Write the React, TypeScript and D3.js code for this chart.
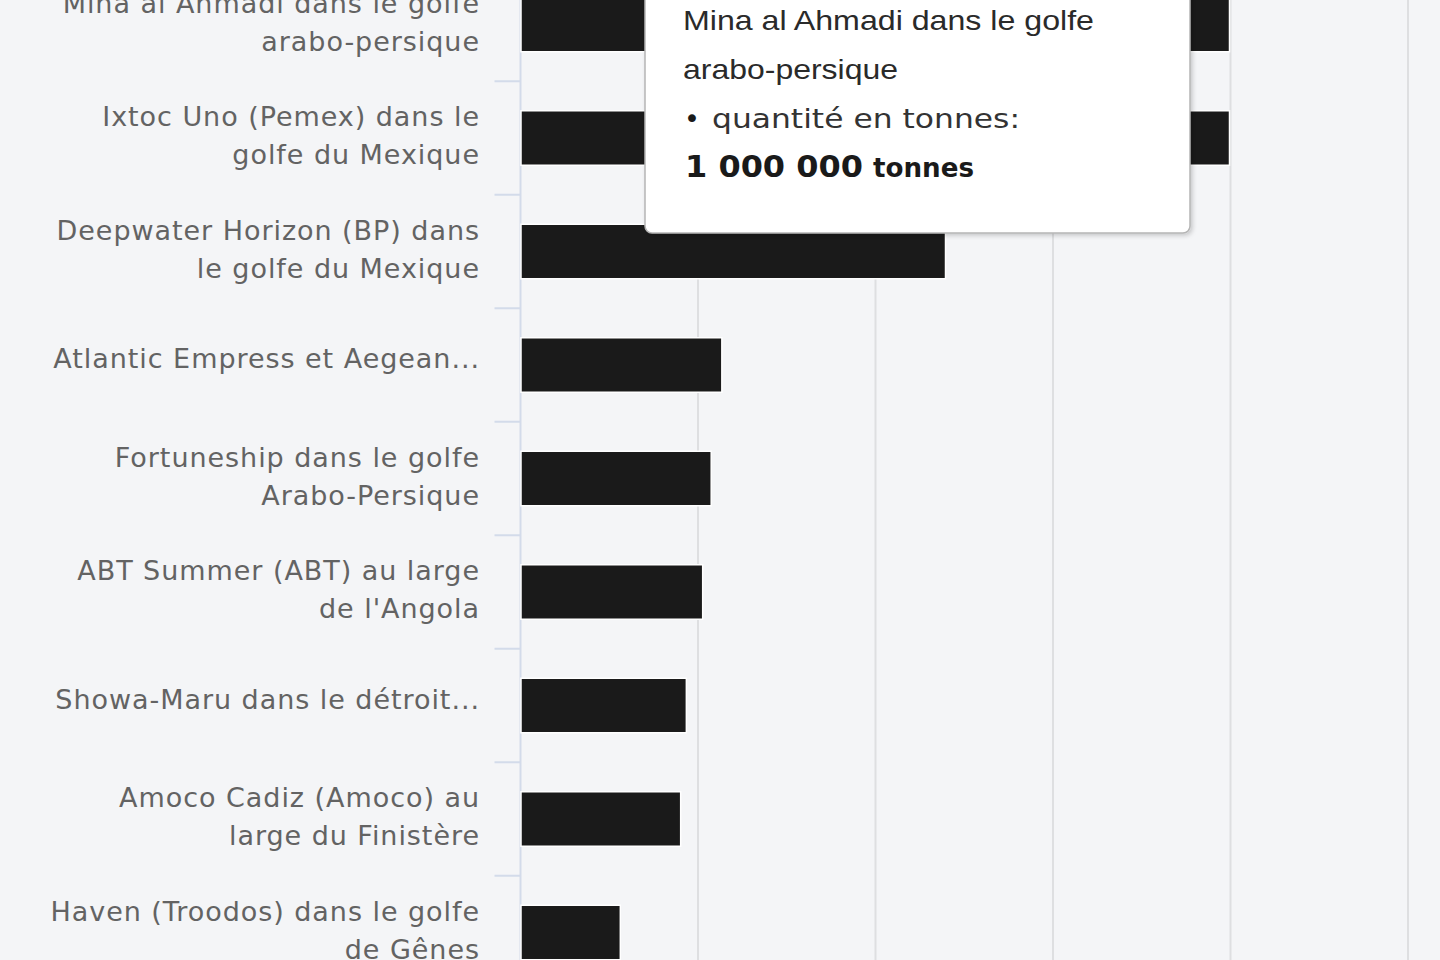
import * as d3 from 'd3'

// marées noires : quantité de pétrole déversée (tonnes)
const categories = [
  'Mina al Ahmadi dans le golfe arabo-persique',
  'Ixtoc Uno (Pemex) dans le golfe du Mexique',
  'Deepwater Horizon (BP) dans le golfe du Mexique',
  'Atlantic Empress et Aegean Captain au large de Tobago',
  'Fortuneship dans le golfe Arabo-Persique',
  "ABT Summer (ABT) au large de l'Angola",
  'Showa-Maru dans le détroit de Malacca',
  'Amoco Cadiz (Amoco) au large du Finistère',
  'Haven (Troodos) dans le golfe de Gênes',
]

const tonnes = [1000000, 1000000, 600000, 285000, 270000, 258000, 235000, 227000, 142000]

// libellés tels qu'affichés sur l'axe (coupés par le graphique)
const tickLabels = [
  ['Mina al Ahmadi dans le golfe', 'arabo-persique'],
  ['Ixtoc Uno (Pemex) dans le', 'golfe du Mexique'],
  ['Deepwater Horizon (BP) dans', 'le golfe du Mexique'],
  ['Atlantic Empress et Aegean...'],
  ['Fortuneship dans le golfe', 'Arabo-Persique'],
  ['ABT Summer (ABT) au large', "de l'Angola"],
  ['Showa-Maru dans le détroit...'],
  ['Amoco Cadiz (Amoco) au', 'large du Finistère'],
  ['Haven (Troodos) dans le golfe', 'de Gênes'],
]

const xTicks = [0, 250000, 500000, 750000, 1000000, 1250000]

const hovered = 0
const seriesName = 'quantité en tonnes'

const labelFont = '"DejaVu Sans", Verdana, sans-serif'
const narrowFont = '"Liberation Sans Narrow", "Liberation Sans", Arial, sans-serif'

export default function App() {
  const width = 1440
  const height = 960

  const x = d3.scaleLinear().domain([0, 1250000]).range([520.5, 1408])
  const y = d3.scaleBand<string>()
    .domain(categories)
    .range([-32.25, -32.25 + categories.length * 113.5])

  const barH = y.bandwidth() * 0.48
  const fmt = (v: number) => d3.format(',')(v).replace(/,/g, ' ')
  const header = tickLabels[hovered]

  return (
    <svg width={width} height={height} style={{ position: 'absolute', left: 0, top: 0 }}>
      <defs>
        <filter id="shadow" x="-5%" y="-5%" width="115%" height="120%">
          <feDropShadow dx="2" dy="2" stdDeviation="2" floodColor="#000" floodOpacity="0.18" />
        </filter>
      </defs>
      <rect width={width} height={height} fill="#f4f5f7" />

      {xTicks.slice(1).map(t => (
        <line key={t} x1={x(t)} x2={x(t)} y1={0} y2={height} stroke="#dedfe1" strokeWidth={2} />
      ))}

      <line x1={x(0)} x2={x(0)} y1={0} y2={height} stroke="#d3dbea" strokeWidth={2} />
      {categories.slice(1).map(c => (
        <line key={c} x1={x(0) - 26} x2={x(0)} y1={y(c)!} y2={y(c)!} stroke="#d3dbea" strokeWidth={2} />
      ))}

      {categories.map((c, i) => {
        const cy = y(c)! + y.bandwidth() / 2
        const lines = tickLabels[i]
        return (
          <text key={c} x={480} textAnchor="end" fontFamily={labelFont} fontSize={27}
            letterSpacing={0.95} fill="#636363">
            {lines.map((l, j) => (
              <tspan key={j} x={480} y={lines.length === 1 ? cy + 3 : cy - 12 + j * 38}>{l}</tspan>
            ))}
          </text>
        )
      })}

      {categories.map((c, i) => {
        const cy = y(c)! + y.bandwidth() / 2
        return (
          <rect key={c} x={x(0) + 0.5} y={cy - barH / 2} width={x(tonnes[i]) - x(0) - 1.5} height={barH}
            fill="#1a1a1a" stroke="#fff" strokeWidth={1.5} />
        )
      })}

      <g>
        <rect x={645} y={-20} width={545} height={253} rx={7} fill="#fff" stroke="#b5b5b5"
          strokeWidth={1.5} filter="url(#shadow)" />
        <text fontFamily={narrowFont} fontSize={28} fill="#2a2a2a">
          <tspan x={683} y={30} textLength={411} lengthAdjust="spacingAndGlyphs">{header[0]}</tspan>
          <tspan x={683} y={79} textLength={215} lengthAdjust="spacingAndGlyphs">{header[1]}</tspan>
        </text>
        <text y={128} fontFamily={labelFont} fontSize={27} fill="#333">
          <tspan x={684} fill="#1a1a1a">•</tspan>
          <tspan x={712} textLength={308} lengthAdjust="spacingAndGlyphs">{seriesName}:</tspan>
        </text>
        <text y={177} fill="#1a1a1a" fontWeight="bold">
          <tspan x={685} fontFamily={labelFont} fontSize={30} textLength={178}
            lengthAdjust="spacingAndGlyphs">{fmt(tonnes[hovered])}</tspan>
          <tspan x={873} fontFamily={labelFont} fontSize={27} textLength={101}
            lengthAdjust="spacingAndGlyphs">tonnes</tspan>
        </text>
      </g>
    </svg>
  )
}
